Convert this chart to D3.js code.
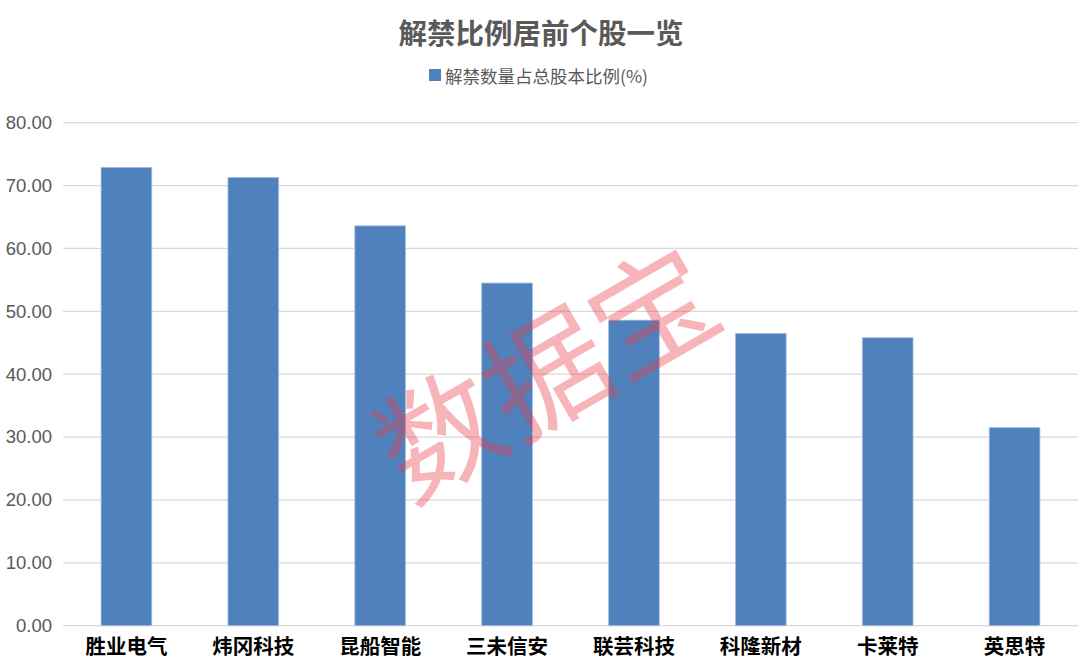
<!DOCTYPE html>
<html><head><meta charset="utf-8">
<script src="https://cdn.jsdelivr.net/npm/d3@7/dist/d3.min.js"></script>
<style>body{margin:0;background:#fff}svg{display:block}</style>
</head><body>
<svg id="c" width="1080" height="671"></svg>
<script>
const categories = ["胜业电气","炜冈科技","昆船智能","三未信安","联芸科技","科隆新材","卡莱特","英思特"];
const values = [72.9, 71.3, 63.6, 54.5, 48.6, 46.5, 45.8, 31.5];
const yTicks = [0,10,20,30,40,50,60,70,80];
const title = "解禁比例居前个股一览";
const seriesName = "解禁数量占总股本比例(%)";
const watermark = "数据宝";

const svg = d3.select("#c");
const W = 1080, H = 671;
const m = {left:63, right:2, top:122.7, bottom:671-625.7};

const x = d3.scaleBand().domain(categories).range([m.left, W-m.right]).paddingInner(0.6).paddingOuter(0.3);
const y = d3.scaleLinear().domain([0,80]).range([H-m.bottom, m.top]);

// gridlines
svg.append("g").selectAll("line").data(yTicks).join("line")
  .attr("x1", m.left).attr("x2", W-m.right)
  .attr("y1", d=>y(d)).attr("y2", d=>y(d))
  .attr("stroke", "#d9d9d9").attr("stroke-width", 1.3);

// y axis labels
const yAxis = d3.axisLeft(y).tickValues(yTicks).tickFormat(d3.format(".2f")).tickSize(0).tickPadding(11);
const ga = svg.append("g").attr("transform", `translate(${m.left},0)`).call(yAxis);
ga.select(".domain").remove();
ga.selectAll("text").attr("font-family","Arial, 'Liberation Sans', sans-serif").attr("font-size",18.5).attr("fill","#595959");

// bars
svg.append("g").selectAll("rect").data(values).join("rect")
  .attr("x", (d,i)=>x(categories[i]))
  .attr("width", x.bandwidth())
  .attr("y", d=>y(d))
  .attr("height", d=>y(0)-y(d))
  .attr("fill", "#4f81bd")
  .attr("stroke", "#a9c1e2").attr("stroke-width", 0.8);

// x axis labels
const xAxis = d3.axisBottom(x).tickSize(0).tickPadding(14);
const gx = svg.append("g").attr("transform", `translate(0,${y(0)})`).call(xAxis);
gx.select(".domain").remove();
gx.selectAll("text").attr("font-family","'Noto Sans CJK SC', sans-serif").attr("font-weight","bold").attr("font-size",20.5).attr("fill","#000");

// title
svg.append("text").attr("x", 541).attr("y", 31).attr("text-anchor","middle").attr("dominant-baseline","central")
  .attr("font-family","'Noto Sans CJK SC', sans-serif").attr("font-weight","bold").attr("font-size",28.5)
  .attr("fill","#595959").text(title);

// legend
svg.append("rect").attr("x",429).attr("y",69).attr("width",12).attr("height",12).attr("fill","#4f81bd");
svg.append("text").attr("x",445).attr("y",75.5).attr("dominant-baseline","central")
  .attr("font-family","'Noto Sans CJK SC', sans-serif").attr("font-size",17.5).attr("fill","#595959").text(seriesName);

// watermark
svg.append("text").attr("transform","translate(542,366) rotate(-30)")
  .attr("text-anchor","middle").attr("dominant-baseline","central")
  .attr("font-family","'Noto Sans CJK SC', sans-serif").attr("font-weight",400).attr("font-size",123)
  .attr("fill","rgb(235,60,70)").attr("fill-opacity",0.38).text(watermark);
</script>
</body></html>
